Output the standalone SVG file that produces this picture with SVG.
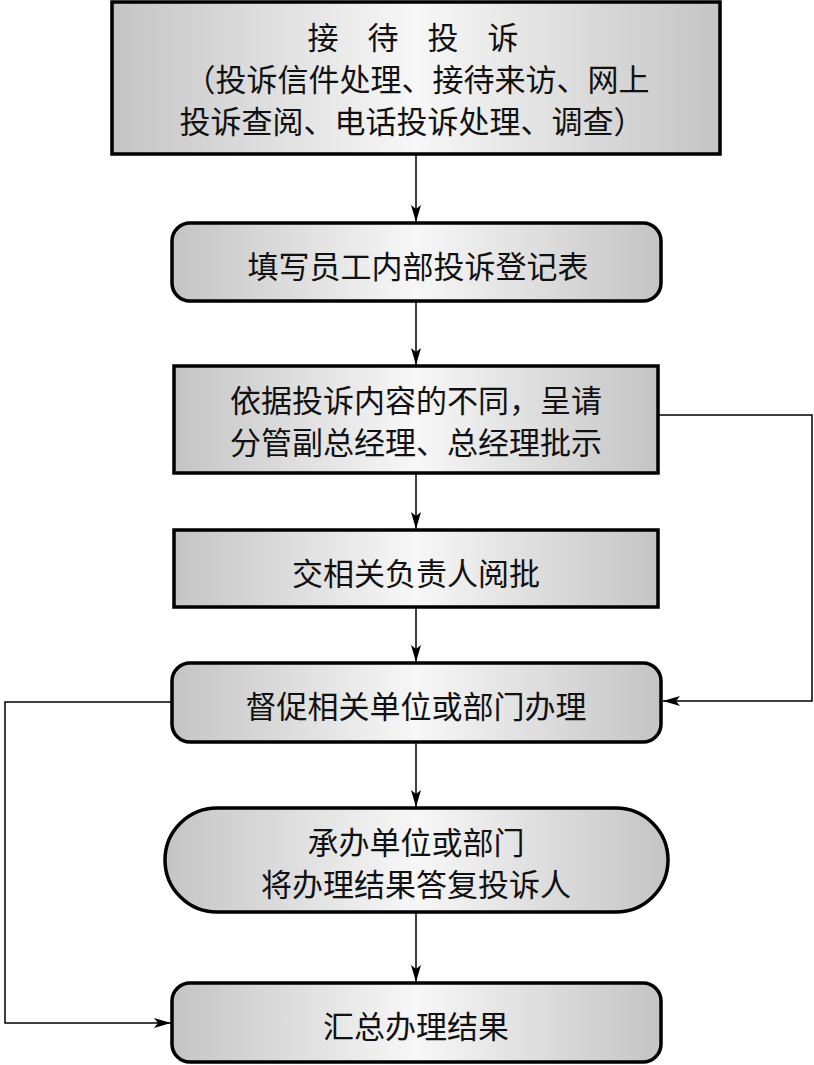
<svg xmlns="http://www.w3.org/2000/svg" width="814" height="1065" viewBox="0 0 814 1065">
<defs>
<linearGradient id="g" x1="0" y1="0" x2="1" y2="0">
<stop offset="0" stop-color="#c4c4c4"/>
<stop offset="0.5" stop-color="#f7f7f7"/>
<stop offset="1" stop-color="#c4c4c4"/>
</linearGradient>
<marker id="ah" markerWidth="18" markerHeight="10" refX="17" refY="5" orient="auto" markerUnits="userSpaceOnUse">
<path d="M0,0 L17,5 L0,10 L4,5 Z" fill="#000"/>
</marker>
<style>
.box{fill:url(#g);stroke:#000;stroke-width:3.5}
.t{font-family:"Noto Sans CJK SC","Noto Sans",sans-serif;font-size:31px;fill:#111;text-anchor:middle;dominant-baseline:central}
.c{fill:none;stroke:#000;stroke-width:1.5}
</style>
</defs>
<rect width="814" height="1065" fill="#fff"/>
<g id="connectors">
<line class="c" x1="416" y1="154" x2="416" y2="222" marker-end="url(#ah)"/>
<line class="c" x1="416" y1="301" x2="416" y2="365" marker-end="url(#ah)"/>
<line class="c" x1="416" y1="473" x2="416" y2="529" marker-end="url(#ah)"/>
<line class="c" x1="416" y1="607" x2="416" y2="662" marker-end="url(#ah)"/>
<line class="c" x1="416" y1="742" x2="416" y2="807" marker-end="url(#ah)"/>
<line class="c" x1="416" y1="912" x2="416" y2="982" marker-end="url(#ah)"/>
<polyline class="c" points="658,415 812,415 812,701 663,701" marker-end="url(#ah)"/>
<polyline class="c" points="172,702 5,702 5,1023 171,1023" marker-end="url(#ah)"/>
</g>
<g id="n1">
<rect class="box" x="112" y="2" width="608" height="152"/>
<text class="t" y="35"><tspan x="323">接</tspan><tspan x="383">待</tspan><tspan x="443">投</tspan><tspan x="503">诉</tspan></text>
<text class="t" x="417" y="77">（投诉信件处理、接待来访、网上</text>
<text class="t" x="412" y="119">投诉查阅、电话投诉处理、调查）</text>
</g>
<g id="n2">
<rect class="box" x="172" y="223" width="489" height="78" rx="18"/>
<text class="t" x="418" y="264">填写员工内部投诉登记表</text>
</g>
<g id="n3">
<rect class="box" x="174" y="366" width="484" height="107"/>
<text class="t" x="416" y="398">依据投诉内容的不同，呈请</text>
<text class="t" x="416" y="440">分管副总经理、总经理批示</text>
</g>
<g id="n4">
<rect class="box" x="174" y="530" width="484" height="77"/>
<text class="t" x="416" y="571">交相关负责人阅批</text>
</g>
<g id="n5">
<rect class="box" x="172" y="663" width="489" height="79" rx="18"/>
<text class="t" x="416" y="704">督促相关单位或部门办理</text>
</g>
<g id="n6">
<rect class="box" x="165" y="808" width="503" height="104" rx="52"/>
<text class="t" x="416" y="840">承办单位或部门</text>
<text class="t" x="416" y="882">将办理结果答复投诉人</text>
</g>
<g id="n7">
<rect class="box" x="172" y="983" width="489" height="79" rx="18"/>
<text class="t" x="416" y="1024">汇总办理结果</text>
</g>
</svg>
